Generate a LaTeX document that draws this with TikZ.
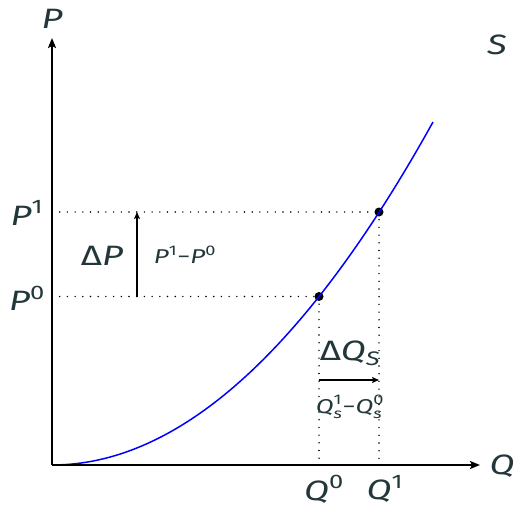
\documentclass[tikz,border=0pt]{standalone}
\usepackage{amsmath}
\usepackage{graphicx}
\usepackage{fontspec}
\setmainfont{Fira Sans}
\usetikzlibrary{arrows.meta}
\definecolor{txt}{RGB}{35,55,59}
\definecolor{curve}{RGB}{0,0,255}
\newcommand\wide[1]{\scalebox{1.3}[1]{#1}}
\tikzset{
  axis/.style={line width=2.2pt,-{Stealth[length=10pt,width=8pt,inset=2pt]}},
  guide/.style={line width=1.6pt,line cap=round,dash pattern=on 0pt off 7.7pt},
  delta/.style={line width=1.4pt,-{Stealth[length=7pt,width=6pt,inset=1.5pt]}},
  biglab/.style={text=txt,font=\fontsize{28}{30}\selectfont,inner sep=0pt},
  smalllab/.style={text=txt,font=\fontsize{20}{22}\selectfont,inner sep=0pt},
  pt/.style={circle,fill=black,inner sep=0pt,minimum size=9pt}
}
\begin{document}
\begin{tikzpicture}[x=1pt,y=-1pt]
\useasboundingbox (0,0) rectangle (514,508);
\coordinate (O) at (52,465);
\coordinate (ytop) at (52,38);
\coordinate (xend) at (480,465);
\coordinate (E) at (433,122);
\node[pt] (A) at (319,296.5) {};
\node[pt] (B) at (379,212) {};
% dotted guides
\coordinate (A0) at (52,296.5);
\coordinate (B0) at (52,212);
\coordinate (Ax) at (319,465);
\coordinate (Bx) at (379,465);
\draw[guide] (A0) -- (A.center);
\draw[guide] (B0) -- (B.center);
\draw[guide] (A.center) -- (Ax);
\draw[guide] (B.center) -- (Bx);
% curve
\draw[curve,line width=1.5pt] (O) .. controls (179,465) and (306,350.7) .. (E);
% axes
\draw[axis] (O) -- (ytop);
\draw[axis] (O) -- (xend);
% delta arrows
\coordinate (dp0) at (137,296.5);
\coordinate (dp1) at (137,212);
\draw[delta] (dp0) -- (dp1);
\coordinate (dq0) at (319,380);
\coordinate (dq1) at (379,380);
\draw[delta] (dq0) -- (dq1);
% labels
\node[biglab] (lP) at (52,19) {\wide{\textit{P}}};
\node[biglab] (lS) at (497,45) {\wide{\textit{S}}};
\node[biglab] (lQ) at (502,466) {\wide{\textit{Q}}};
\node[biglab] (lP1) at (27,213) {\wide{$\textit{P}^{\text{1}}$}};
\node[biglab] (lP0) at (27,298) {\wide{$\textit{P}^{\text{0}}$}};
\node[biglab] (lQ0) at (324,489) {\wide{$\textit{Q}^{\text{0}}$}};
\node[biglab] (lQ1) at (385,489) {\wide{$\textit{Q}^{\text{1}}$}};
\node[biglab] (lDP) at (102,256) {\wide{Δ\textit{P}}};
\node[smalllab] (lPP) at (185,255) {\wide{$\textit{P}^{\text{1}}\text{−}\textit{P}^{\text{0}}$}};
\node[biglab] (lDQ) at (350,353) {\wide{Δ$\textit{Q}_{\textit{S}}$}};
\node[smalllab] (lQQ) at (350,407) {\wide{$\textit{Q}^{\text{1}}_{\textit{s}}\text{−}\textit{Q}^{\text{0}}_{\textit{s}}$}};
\end{tikzpicture}
\end{document}
